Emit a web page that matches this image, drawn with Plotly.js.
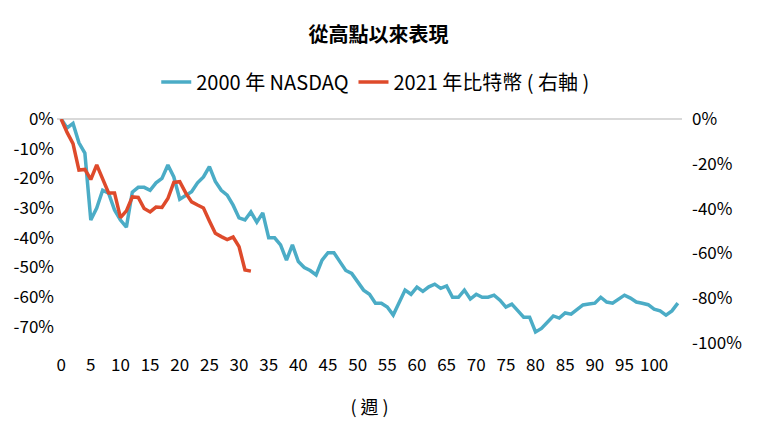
<!DOCTYPE html>
<html>
<head>
<meta charset="utf-8">
<script src="https://cdn.plot.ly/plotly-3.0.1.min.js"></script>
<style>html,body{margin:0;padding:0;background:#fff;}#chart{width:757px;height:439px;}</style>
</head>
<body>
<div id="chart"></div>
<script>
// Weeks since peak
const nasdaqWeeks = [];
for (let i = 0; i <= 104; i++) nasdaqWeeks.push(i);
// 2000 NASDAQ drawdown from peak (%), left axis
const nasdaqValues = [
  0, -3, -1.5, -8, -11.5, -34, -30, -24, -25, -30.6,
  -34, -36.4, -24.6, -23, -23, -24, -21.5, -20, -15.5, -19.5,
  -27, -25.6, -24.5, -21.5, -19.5, -16, -21, -24, -25.6, -29,
  -33.3, -34, -31.3, -34.7, -31.6, -40, -40, -42.4, -47.5, -42.4,
  -48, -50, -51, -52.5, -47.5, -45, -45, -48, -51, -52,
  -55, -57.6, -59, -62, -62, -63.3, -66, -61.5, -57.6, -59,
  -56.6, -58, -56.5, -55.6, -57, -56.2, -60, -60, -57.6, -60.6,
  -59, -60, -60, -59.3, -61, -63.3, -62.3, -64.5, -66.7, -66.7,
  -71.7, -70.5, -68.5, -66.3, -67, -65.3, -65.7, -64, -62.6, -62.3,
  -62, -60, -61.6, -62, -60.6, -59.3, -60.3, -61.6, -62, -62.5,
  -64, -64.6, -66, -64.6, -62
];
const btcWeeks = [];
for (let i = 0; i <= 32; i++) btcWeeks.push(i);
// 2021 Bitcoin drawdown from peak (%), right axis
const btcValues = [
  0, -6, -11, -22.8, -22.5, -27, -20.5, -26.5, -33, -33,
  -44, -41, -34.8, -35, -40, -41.5, -39.3, -39.5, -35.5, -28.3,
  -28, -33, -37, -38.4, -39.7, -45.5, -51, -52.5, -53.8, -52.7,
  -57, -67.4, -67.9
];
const xTicks = [0,5,10,15,20,25,30,35,40,45,50,55,60,65,70,75,80,85,90,95,100];
const leftTicks = [0,-10,-20,-30,-40,-50,-60,-70];
const rightTicks = [0,-20,-40,-60,-80,-100];

const FONT = '"Liberation Sans Narrow", "Noto Sans CJK TC", sans-serif';

const traces = [
  {x: nasdaqWeeks, y: nasdaqValues, name: '2000 年 NASDAQ', type: 'scatter', mode: 'lines',
   line: {color: '#4bacc6', width: 3.5}, yaxis: 'y'},
  {x: btcWeeks, y: btcValues, name: '2021 年比特幣 ( 右軸 )', type: 'scatter', mode: 'lines',
   line: {color: '#de4a2b', width: 3.5}, yaxis: 'y2'}
];

const layout = {
  width: 757, height: 439,
  margin: {l: 57, r: 75, t: 119, b: 96},
  paper_bgcolor: '#fff', plot_bgcolor: '#fff',
  font: {family: FONT, color: '#000', size: 16},
  title: {text: '從高點以來表現', font: {family: '"Noto Sans CJK TC", sans-serif', size: 20, color: '#000', weight: 'bold'},
          x: 0.5, xref: 'container', y: 1 - 35/439, yref: 'container', yanchor: 'middle'},
  showlegend: true,
  legend: {orientation: 'h', x: 0.51, xanchor: 'center', y: 1 + 37/224, yanchor: 'middle',
           font: {family: FONT, size: 20, color: '#000'}},
  xaxis: {range: [-0.7, 104.7], tickvals: xTicks, ticktext: xTicks.map(String), automargin: false,
          showgrid: false, zeroline: false, showline: false, ticks: '',
          tickfont: {size: 17}, ticklabelstandoff: 10,
          title: {text: '( 週 )', font: {family: FONT, size: 18}, standoff: 26}},
  yaxis: {range: [-75.4, 0], tickvals: leftTicks, ticktext: leftTicks.map(v => v + '%'), automargin: false,
          showgrid: false, zeroline: true, zerolinecolor: '#d9d9d9', zerolinewidth: 1.5,
          showline: false, ticks: '', tickfont: {size: 17}, ticklabelstandoff: 2},
  yaxis2: {range: [-100, 0], overlaying: 'y', side: 'right', tickvals: rightTicks, automargin: false,
           ticktext: rightTicks.map(v => v + '%'), showgrid: false, zeroline: false,
           showline: false, ticks: '', tickfont: {size: 17}, ticklabelstandoff: 9}
};

Plotly.newPlot('chart', traces, layout, {displayModeBar: false, staticPlot: true});
</script>
</body>
</html>
